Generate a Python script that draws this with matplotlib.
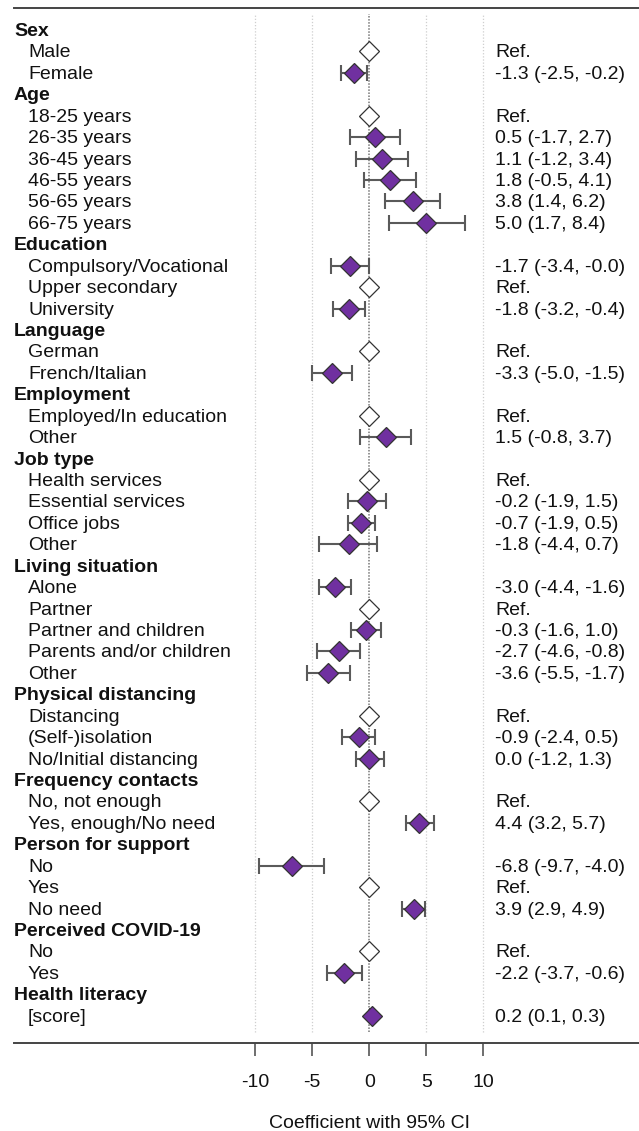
import numpy as np
import matplotlib
matplotlib.use("Agg")
import matplotlib.pyplot as plt

plt.rcParams['font.family'] = ['Liberation Sans', 'DejaVu Sans']

# ============================================
# Data: coefficients with 95% CI (None = reference category)
# ============================================
headers = ["Sex", "Age", "Education", "Language", "Employment", "Job type",
           "Living situation", "Physical distancing", "Frequency contacts",
           "Person for support", "Perceived COVID-19", "Health literacy"]

items = [
    ["Male", "Female"],
    ["18-25 years", "26-35 years", "36-45 years", "46-55 years", "56-65 years", "66-75 years"],
    ["Compulsory/Vocational", "Upper secondary", "University"],
    ["German", "French/Italian"],
    ["Employed/In education", "Other"],
    ["Health services", "Essential services", "Office jobs", "Other"],
    ["Alone", "Partner", "Partner and children", "Parents and/or children", "Other"],
    ["Distancing", "(Self-)isolation", "No/Initial distancing"],
    ["No, not enough", "Yes, enough/No need"],
    ["No", "Yes", "No need"],
    ["No", "Yes"],
    ["[score]"],
]

est = [
    [None, -1.3],
    [None, 0.5, 1.1, 1.8, 3.8, 5.0],
    [-1.7, None, -1.8],
    [None, -3.3],
    [None, 1.5],
    [None, -0.2, -0.7, -1.8],
    [-3.0, None, -0.3, -2.7, -3.6],
    [None, -0.9, 0.0],
    [None, 4.4],
    [-6.8, None, 3.9],
    [None, -2.2],
    [0.2],
]

lower = [
    [None, -2.5],
    [None, -1.7, -1.2, -0.5, 1.4, 1.7],
    [-3.4, None, -3.2],
    [None, -5.0],
    [None, -0.8],
    [None, -1.9, -1.9, -4.4],
    [-4.4, None, -1.6, -4.6, -5.5],
    [None, -2.4, -1.2],
    [None, 3.2],
    [-9.7, None, 2.9],
    [None, -3.7],
    [0.1],
]

upper = [
    [None, -0.2],
    [None, 2.7, 3.4, 4.1, 6.2, 8.4],
    [-0.0, None, -0.4],
    [None, -1.5],
    [None, 3.7],
    [None, 1.5, 0.5, 0.7],
    [-1.6, None, 1.0, -0.8, -1.7],
    [None, 0.5, 1.3],
    [None, 5.7],
    [-4.0, None, 4.9],
    [None, -0.6],
    [0.3],
]

xticks = [-10, -5, 0, 5, 10]

# ============================================
# Figure layout
# ============================================
W, H = 639, 1131
fig = plt.figure(figsize=(W / 100, H / 100), dpi=100)
ax = fig.add_axes([14 / W, 1 - 1043 / H, (W - 14) / W, (1043 - 8) / H])

px_per_unit = 11.4
x0_px = 369.3
row0_px, row_step = 30, 21.43
ax.set_xlim((14 - x0_px) / px_per_unit, (W - x0_px) / px_per_unit)
ax.set_ylim((1043 - row0_px) / row_step, (8 - row0_px) / row_step)

x_head = (14 - x0_px) / px_per_unit
x_item = (28 - x0_px) / px_per_unit
x_right = (495 - x0_px) / px_per_unit
text_dy = 1.5 / row_step  # small downward nudge so text sits on the row

grid_top, grid_bot = (14 - row0_px) / row_step, (1032 - row0_px) / row_step
ax.vlines([-10, -5, 5, 10], grid_bot, grid_top, colors="#cfcfcf",
          linestyles=(0, (1, 1.5)), linewidth=0.9, zorder=0)
ax.vlines([0], grid_bot, grid_top, colors="#777777",
          linestyles=(0, (1, 1)), linewidth=1.1, zorder=0)

purple = "#7030a0"
fs = 14
row = 0
for h, labs, es, los, his in zip(headers, items, est, lower, upper):
    ax.text(x_head, row + text_dy, h, fontsize=fs, fontweight="bold",
            va="center", ha="left", color="#111111")
    row += 1
    for lab, e, lo, hi in zip(labs, es, los, his):
        ax.text(x_item, row + text_dy, lab, fontsize=fs, va="center",
                ha="left", color="#111111")
        if e is None:
            ax.plot(0, row, marker="D", ms=10.5, mfc="white", mec="#333333",
                    mew=0.9, zorder=3)
            txt = "Ref."
        else:
            ax.errorbar(e, row, xerr=[[e - lo], [hi - e]], fmt="none",
                        ecolor="#5a5a5a", elinewidth=1.5, capsize=5.6,
                        capthick=1.5, zorder=2)
            ax.plot(e, row, marker="D", ms=10.5, mfc=purple, mec="#333333",
                    mew=0.9, zorder=3)
            txt = f"{e:.1f} ({lo:.1f}, {hi:.1f})"
        ax.text(x_right, row + text_dy, txt, fontsize=fs, va="center",
                ha="left", color="#111111")
        row += 1

# axes styling
for s in ["left", "right"]:
    ax.spines[s].set_visible(False)
ax.spines["top"].set_color("#444444")
ax.spines["top"].set_linewidth(1.4)
ax.spines["bottom"].set_color("#444444")
ax.spines["bottom"].set_linewidth(1.4)
ax.set_yticks([])
ax.set_xticks(xticks)
ax.set_xticklabels([str(t) for t in xticks], fontsize=fs)
ax.tick_params(axis="x", direction="out", length=9.5, width=1.2,
               color="#555555", pad=13, labelcolor="#111111")

fig.text(x0_px / W, 1 - 1124 / H, "Coefficient with 95% CI", fontsize=fs,
         ha="center", va="center", color="#111111")

fig.savefig("out.png", dpi=100)
